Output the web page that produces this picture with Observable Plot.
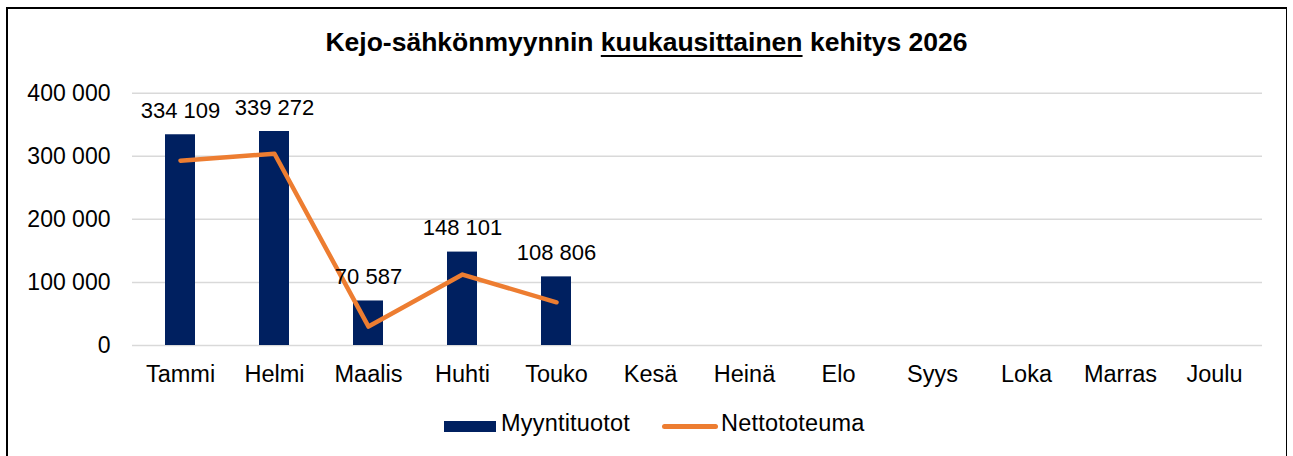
<!DOCTYPE html>
<html>
<head>
<meta charset="utf-8">
<script src="https://cdn.jsdelivr.net/npm/d3@7"></script>
<script src="https://cdn.jsdelivr.net/npm/@observablehq/plot@0.6"></script>
<style>
  html, body { margin: 0; padding: 0; background: #fff; overflow: hidden; }
  body { width: 1293px; height: 456px; position: relative; font-family: "Liberation Sans", Arial, sans-serif; color: #000; }
  #frame { position: absolute; left: 6px; top: 7px; width: 1281px; height: 480px; border: 2px solid #000; border-right-width: 1.5px; box-sizing: border-box; pointer-events: none; }
  #title { height: 39px; padding-top: 29px; text-align: center; font-size: 26.5px; font-weight: bold; line-height: 1; white-space: nowrap; }
  #title u { text-decoration-thickness: 2px; text-underline-offset: 4px; }
  #chart svg { display: block; }
  #legend { position: relative; height: 56px; font-size: 23.5px; line-height: 1; letter-spacing: 0.2px; }
  .sw { position: absolute; }
  .lt { position: absolute; top: 12px; white-space: nowrap; }
</style>
</head>
<body>
<div id="title">Kejo-sähkönmyynnin <u>kuukausittainen</u> kehitys 2026</div>
<div id="chart"></div>
<div id="legend">
  <div class="sw" style="left:444px; top:20.5px; width:52px; height:11px; background:#002060;"></div>
  <div class="lt" style="left:501px;">Myyntituotot</div>
  <div class="sw" style="left:662px; top:23.5px; width:56px; height:5px; border-radius:2.5px; background:#ED7D31;"></div>
  <div class="lt" style="left:721px;">Nettototeuma</div>
</div>
<div id="frame"></div>
<script>
const months = ["Tammi", "Helmi", "Maalis", "Huhti", "Touko", "Kesä", "Heinä", "Elo", "Syys", "Loka", "Marras", "Joulu"];
const salesMonths = ["Tammi", "Helmi", "Maalis", "Huhti", "Touko"];
const sales = [334109, 339272, 70587, 148101, 108806];
const net = [293000, 304000, 30000, 112500, 68500];
const yTicks = [0, 100000, 200000, 300000, 400000];

const fmt = v => d3.format(",")(v).replace(/,/g, " ");
const rows = salesMonths.map((m, i) => ({month: m, sales: sales[i], net: net[i]}));

const chart = Plot.plot({
  width: 1293,
  height: 332,
  marginLeft: 132,
  marginRight: 31,
  marginTop: 24.7,
  marginBottom: 55,
  style: {fontFamily: "'Liberation Sans', Arial, sans-serif", fontSize: "23px", color: "#000", background: "#fff"},
  x: {domain: months, type: "band", paddingInner: 0.685, paddingOuter: 0.3425},
  y: {domain: [0, 400000]},
  marks: [
    Plot.gridY(yTicks, {stroke: "#d9d9d9", strokeOpacity: 1, strokeWidth: 1.5}),
    Plot.axisY(yTicks, {tickSize: 0, tickPadding: 22, tickFormat: fmt, label: null, fill: "#000", fontSize: 23}),
    Plot.axisX({tickSize: 0, tickPadding: 20, label: null, fill: "#000", fontSize: 23.5, style: {letterSpacing: "0.2px"}}),
    Plot.barY(rows, {x: "month", y: "sales", fill: "#002060"}),
    Plot.line(rows, {x: "month", y: "net", stroke: "#ED7D31", strokeWidth: 4.5, strokeLinecap: "round", strokeLinejoin: "round"}),
    Plot.text(rows, {x: "month", y: "sales", text: d => fmt(d.sales), lineAnchor: "bottom", dy: -17, fill: "#000", fontSize: 22})
  ]
});
document.getElementById("chart").appendChild(chart);
</script>
</body>
</html>
